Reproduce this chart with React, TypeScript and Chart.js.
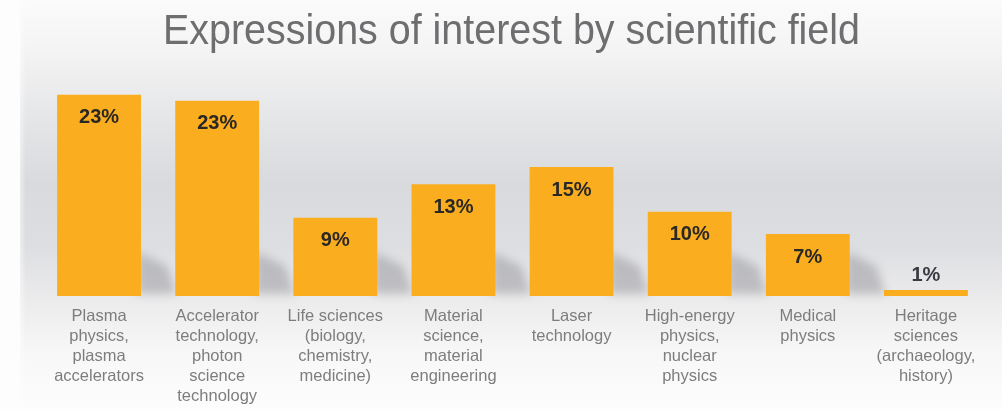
import React, { useEffect, useRef } from "react";
import { Chart, registerables } from "chart.js";

Chart.register(...registerables);

const TITLE = "Expressions of interest by scientific field";

const categories: string[][] = [
  ["Plasma", "physics,", "plasma", "accelerators"],
  ["Accelerator", "technology,", "photon", "science", "technology"],
  ["Life sciences", "(biology,", "chemistry,", "medicine)"],
  ["Material", "science,", "material", "engineering"],
  ["Laser", "technology"],
  ["High-energy", "physics,", "nuclear", "physics"],
  ["Medical", "physics"],
  ["Heritage", "sciences", "(archaeology,", "history)"],
];

const values: number[] = [23.4, 22.7, 9.1, 13.0, 15.0, 9.8, 7.2, 0.7];
const valueLabels: string[] = ["23%", "23%", "9%", "13%", "15%", "10%", "7%", "1%"];

const BAR_COLOR = "#FAAD1E";

const backgroundPlugin = {
  id: "bgGradient",
  beforeDraw(chart: any) {
    const { ctx, width, height } = chart;
    ctx.save();
    ctx.fillStyle = "#fdfdfd";
    ctx.fillRect(0, 0, width, height);
    const g = ctx.createLinearGradient(0, 0, 0, height);
    g.addColorStop(0, "#fbfbfb");
    g.addColorStop(0.12, "#f4f4f4");
    g.addColorStop(0.3, "#e4e5e7");
    g.addColorStop(0.45, "#d9dadd");
    g.addColorStop(0.6, "#dddee1");
    g.addColorStop(0.74, "#ececed");
    g.addColorStop(0.86, "#f7f7f7");
    g.addColorStop(1, "#fdfdfd");
    ctx.fillStyle = g;
    ctx.fillRect(20, 0, width - 20, height);
    const lg = ctx.createLinearGradient(14, 0, 26, 0);
    lg.addColorStop(0, "rgba(253,253,253,1)");
    lg.addColorStop(1, "rgba(253,253,253,0)");
    ctx.fillStyle = lg;
    ctx.fillRect(14, 0, 12, height);
    ctx.restore();
  },
};

const titlePlugin = {
  id: "customTitle",
  afterDraw(chart: any) {
    const { ctx } = chart;
    ctx.save();
    ctx.font = "43px 'Liberation Sans', Arial, sans-serif";
    ctx.fillStyle = "#6e6e70";
    ctx.textAlign = "center";
    ctx.textBaseline = "alphabetic";
    const w = ctx.measureText(TITLE).width;
    const sx = Math.min(1, 697 / w);
    ctx.translate(511.5, 44);
    ctx.scale(sx, 1);
    ctx.fillText(TITLE, 0, 0);
    ctx.restore();
  },
};

const shadowPlugin = {
  id: "barShadows",
  beforeDatasetsDraw(chart: any) {
    const { ctx } = chart;
    const meta = chart.getDatasetMeta(0);
    ctx.save();
    ctx.filter = "blur(5px)";
    meta.data.forEach((bar: any) => {
      const right = bar.x + bar.width / 2;
      const bottom = bar.base;
      const h = Math.min(bottom - bar.y, 44);
      if (h < 10) return;
      ctx.fillStyle = "rgba(120,122,128,0.38)";
      ctx.beginPath();
      ctx.moveTo(right - 4, bottom - h);
      ctx.lineTo(right + 26, bottom - h + 14);
      ctx.lineTo(right + 36, bottom - 2);
      ctx.lineTo(right - 4, bottom - 2);
      ctx.closePath();
      ctx.fill();
    });
    ctx.restore();
  },
};

const valueLabelPlugin = {
  id: "valueLabels",
  afterDatasetsDraw(chart: any) {
    const { ctx } = chart;
    const meta = chart.getDatasetMeta(0);
    ctx.save();
    ctx.font = "bold 20px 'Liberation Sans', Arial, sans-serif";
    ctx.textAlign = "center";
    ctx.textBaseline = "middle";
    meta.data.forEach((bar: any, i: number) => {
      const hgt = bar.base - bar.y;
      if (hgt > 30) {
        ctx.fillStyle = "#2a2826";
        ctx.fillText(valueLabels[i], bar.x, bar.y + 23);
      } else {
        ctx.fillStyle = "#3a3a44";
        ctx.fillText(valueLabels[i], bar.x, bar.y - 14);
      }
    });
    ctx.restore();
  },
};

export default function App() {
  const ref = useRef<HTMLCanvasElement | null>(null);

  useEffect(() => {
    document.body.style.margin = "0";
    if (!ref.current) return;
    const chart = new Chart(ref.current, {
      type: "bar",
      data: {
        labels: categories,
        datasets: [
          {
            data: values,
            backgroundColor: BAR_COLOR,
            borderWidth: 0,
            categoryPercentage: 1,
            barPercentage: 0.71,
          },
        ],
      },
      options: {
        animation: false,
        responsive: false,
        maintainAspectRatio: false,
        layout: { padding: { top: 81, left: 40, right: 17, bottom: 0 } },
        plugins: {
          legend: { display: false },
          title: { display: false },
          tooltip: { enabled: false },
        },
        scales: {
          x: {
            grid: { display: false, drawTicks: false },
            border: { display: false },
            ticks: {
              color: "#7d7d7d",
              padding: 11,
              maxRotation: 0,
              autoSkip: false,
              font: { family: "'Liberation Sans', Arial, sans-serif", size: 16.5, lineHeight: 1.2 },
            },
            afterFit: (scale: any) => {
              scale.height = 113;
            },
          },
          y: {
            display: false,
            min: 0,
            max: 25,
          },
        },
      },
      plugins: [backgroundPlugin, shadowPlugin, valueLabelPlugin, titlePlugin],
    });
    return () => chart.destroy();
  }, []);

  return <canvas ref={ref} width={1002} height={409} style={{ display: "block" }} />;
}
